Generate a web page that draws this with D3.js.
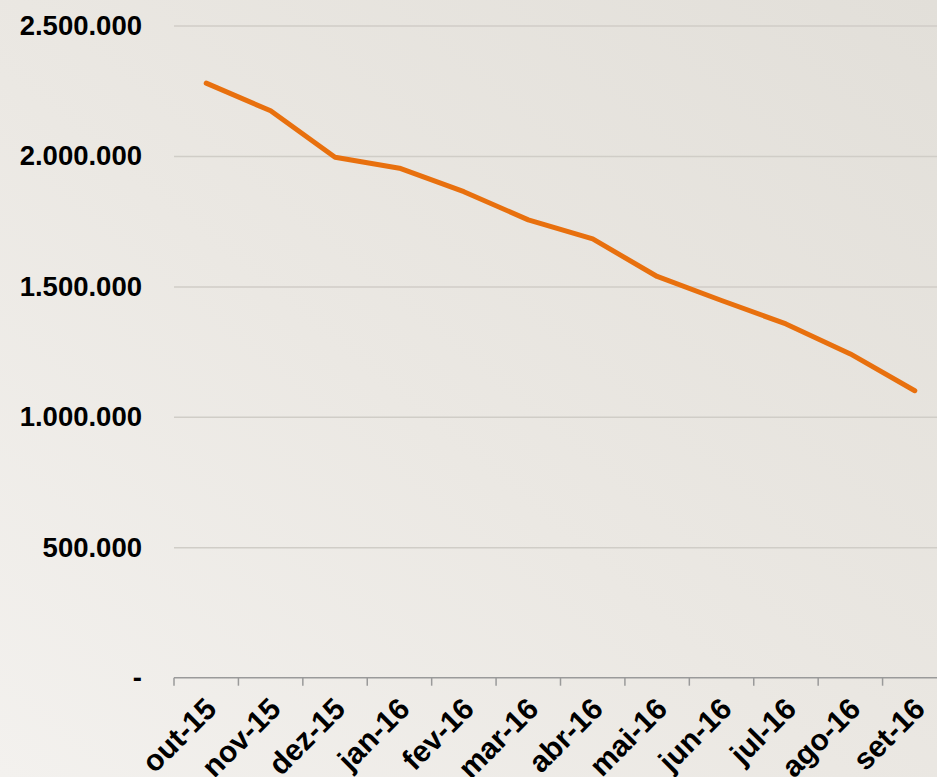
<!DOCTYPE html>
<html>
<head>
<meta charset="utf-8">
<script src="https://cdn.jsdelivr.net/npm/d3@7"></script>
<style>
  body { margin: 0; padding: 0; overflow: hidden; }
  svg { display: block; font-family: "Liberation Sans", Arial, sans-serif; }
</style>
</head>
<body>
<div id="chart-area"></div>
<script>
// dados
var meses = ["out-15", "nov-15", "dez-15", "jan-16", "fev-16", "mar-16",
             "abr-16", "mai-16", "jun-16", "jul-16", "ago-16", "set-16"];
var valores = [2279000, 2173000, 1995000, 1953000, 1863000, 1755000,
               1682000, 1538000, 1446000, 1356000, 1241000, 1100000];
var yTicks = [0, 500000, 1000000, 1500000, 2000000, 2500000];

var width = 937, height = 777;
var mLeft = 174, mRight = 947, mTop = 25.5, mBottom = 677.7;

var svg = d3.select("#chart-area")
  .append("svg")
  .attr("width", width)
  .attr("height", height);

// fundo
var defs = svg.append("defs");
var grad = defs.append("linearGradient")
  .attr("id", "bg")
  .attr("x1", "100%").attr("y1", "0%")
  .attr("x2", "0%").attr("y2", "100%");
grad.append("stop").attr("offset", "0%").attr("stop-color", "#e2dfd9");
grad.append("stop").attr("offset", "55%").attr("stop-color", "#ebe8e3");
grad.append("stop").attr("offset", "100%").attr("stop-color", "#f3f1ee");

svg.append("rect")
  .attr("width", width)
  .attr("height", height)
  .attr("fill", "url(#bg)");

var x = d3.scaleBand()
  .domain(meses)
  .range([mLeft, mRight])
  .padding(0);

var y = d3.scaleLinear()
  .domain([0, 2500000])
  .range([mBottom, mTop]);

var br = d3.formatLocale({decimal: ",", thousands: ".", grouping: [3], currency: ["R$", ""]});
var fmt = br.format(",.0f");

// eixo y com grade
var yAxis = svg.append("g")
  .attr("transform", "translate(" + mLeft + ",0)")
  .call(d3.axisLeft(y)
    .tickValues(yTicks)
    .tickSize(-(mRight - mLeft))
    .tickPadding(32)
    .tickFormat(function(d){
      return d == 0 ? "-" : fmt(d);
    }));

yAxis.select(".domain").remove();
yAxis.selectAll(".tick line")
  .attr("stroke", "#d0cdc7")
  .attr("stroke-width", 1.5)
  .attr("display", function(d){ return d == 0 ? "none" : null; });
yAxis.selectAll(".tick text")
  .attr("font-size", 27.5)
  .attr("font-weight", "bold")
  .attr("fill", "#000")
  .attr("font-family", "Liberation Sans, Arial, sans-serif");

// eixo x
var xg = svg.append("g");
xg.append("line")
  .attr("x1", mLeft).attr("x2", mRight)
  .attr("y1", mBottom).attr("y2", mBottom)
  .attr("stroke", "#9a9a9a")
  .attr("stroke-width", 1.5);

xg.selectAll(".xtick")
  .data(meses)
  .enter()
  .append("line")
  .attr("class", "xtick")
  .attr("x1", function(d){ return x(d); })
  .attr("x2", function(d){ return x(d); })
  .attr("y1", mBottom)
  .attr("y2", mBottom + 8)
  .attr("stroke", "#9a9a9a")
  .attr("stroke-width", 1.5);

xg.selectAll(".xlabel")
  .data(meses)
  .enter()
  .append("text")
  .attr("class", "xlabel")
  .attr("transform", function(d){
    var cx = x(d) + x.bandwidth() / 2;
    return "translate(" + (cx + 12) + "," + (mBottom + 33) + ") rotate(-45)";
  })
  .attr("text-anchor", "end")
  .attr("font-size", 30)
  .attr("font-weight", "bold")
  .attr("fill", "#000")
  .text(function(d){ return d; });

// linha
var line = d3.line()
  .x(function(d, i){ return x(meses[i]) + x.bandwidth() / 2; })
  .y(function(d){ return y(d); });

svg.append("path")
  .datum(valores)
  .attr("d", line)
  .attr("fill", "none")
  .attr("stroke", "#e8700e")
  .attr("stroke-width", 5)
  .attr("stroke-linejoin", "round")
  .attr("stroke-linecap", "round");
</script>
</body>
</html>
